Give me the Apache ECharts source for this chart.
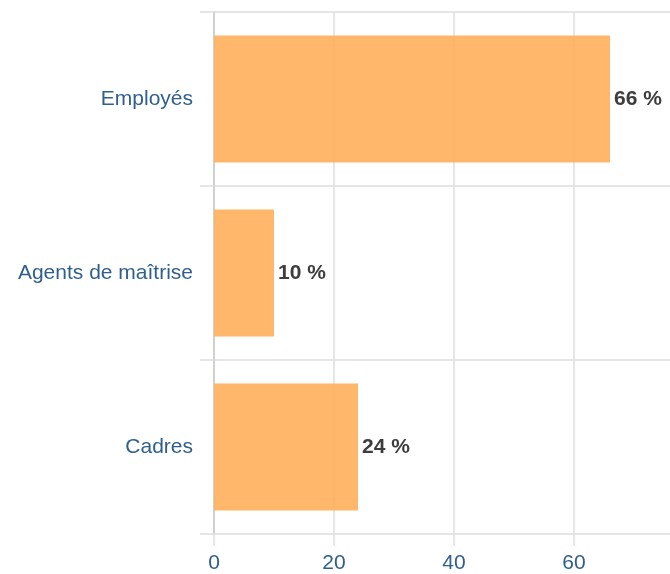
<!DOCTYPE html>
<html>
<head>
<meta charset="utf-8">
<script src="https://cdn.jsdelivr.net/npm/echarts@6/dist/echarts.min.js"></script>
<style>
  html, body { margin: 0; padding: 0; background: #fff; }
  #div-chart { width: 670px; height: 574px; }
</style>
</head>
<body>
<div id="div-chart"></div>
<script>
"use strict";

//
// Data
//
const categories = ["Cadres", "Agents de maîtrise", "Employés"];
const values = [24, 10, 66];
const x_ticks = [0, 20, 40, 60, 80];

//
// Chart
//
const html_div_chart = document.getElementById("div-chart");
const chart = echarts.init(html_div_chart);

const label_color = "#2f5f8c";
const line_color = "#dedede";

chart.setOption({
  animation: false,
  grid: {
    left: 214,
    width: 480, // axis runs past the right edge, 80 is cut off
    top: 12,
    bottom: 40,
    outerBoundsMode: "none",
    containLabel: false,
  },
  xAxis: {
    type: "value",
    min: x_ticks[0],
    max: x_ticks[x_ticks.length - 1],
    interval: 20,
    axisLine: { show: false },
    axisTick: {
      show: true,
      length: 12,
      lineStyle: { color: line_color, width: 1.5 },
    },
    axisLabel: {
      color: label_color,
      fontFamily: "Liberation Sans, Arial, sans-serif",
      fontSize: 21,
      margin: 19,
    },
    splitLine: {
      show: true,
      lineStyle: { color: line_color, width: 1.5 },
    },
  },
  yAxis: {
    type: "category",
    data: categories,
    axisLine: {
      show: true,
      lineStyle: { color: "#d0d0d0", width: 2 },
    },
    axisTick: {
      show: true,
      length: 14,
      lineStyle: { color: line_color, width: 1.5 },
    },
    axisLabel: {
      color: label_color,
      fontFamily: "Liberation Sans, Arial, sans-serif",
      fontSize: 21,
      margin: 21,
    },
    splitLine: {
      show: true,
      lineStyle: { color: line_color, width: 1.5 },
    },
  },
  series: [
    {
      type: "bar",
      data: values,
      barCategoryGap: "27%",
      itemStyle: { color: "#ffad58", opacity: 0.88 },
      label: {
        show: true,
        position: "right",
        distance: 4,
        formatter: "{c} %",
        color: "#222",
        fontWeight: "bold",
        fontFamily: "Liberation Sans, Arial, sans-serif",
        fontSize: 21,
      },
    },
  ],
});
</script>
</body>
</html>
